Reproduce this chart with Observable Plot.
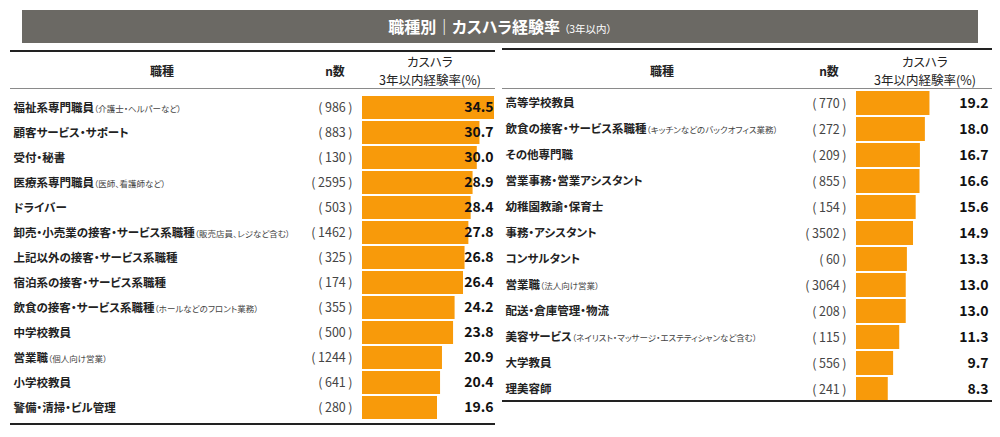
<!DOCTYPE html>
<html>
<head>
<meta charset="utf-8">
<script src="https://cdn.jsdelivr.net/npm/d3@7"></script>
<script src="https://cdn.jsdelivr.net/npm/@observablehq/plot@0.6"></script>
<style>
  html, body { margin: 0; padding: 0; background: #fff; }
  body { width: 1000px; height: 437px; position: relative; overflow: hidden;
         font-family: "Noto Sans CJK JP", "Noto Sans", sans-serif; color: #222;
         font-feature-settings: "palt"; }
  svg { font-feature-settings: "palt"; }
  .abs { position: absolute; }
  #title { left: 22px; top: 10px; width: 956px; height: 33px; background: #6b6964;
           color: #fff; text-align: center; line-height: 33px; font-size: 16px; font-weight: bold; }
  #title small { font-size: 10.5px; font-weight: normal; margin-left: 4px; }
  .rule { height: 0; z-index: 5; }
  .hdr { font-size: 12px; font-weight: bold; line-height: 16px; transform: translateX(-50%); white-space: nowrap; text-align: center; }
  .hdr2 { font-size: 12.5px; font-weight: normal; line-height: 18px; transform: translateX(-50%); white-space: nowrap; text-align: center; }
</style>
</head>
<body>
<div id="title" class="abs">職種別｜カスハラ経験率<small>（3年以内）</small></div>

<!-- left header -->
<div class="abs rule" style="left:10px;top:50px;width:485px;border-top:2px solid #222;"></div>
<div class="abs hdr" style="left:162px;top:63px;">職種</div>
<div class="abs hdr" style="left:335px;top:63px;">n数</div>
<div class="abs hdr2" style="left:430px;top:53px;">カスハラ<br>3年以内経験率(%)</div>
<div class="abs rule" style="left:10px;top:88px;width:485px;border-top:1.5px solid #8a8a8a;"></div>
<div class="abs rule" style="left:10px;top:423px;width:485px;border-top:2px solid #222;"></div>

<!-- right header -->
<div class="abs rule" style="left:502px;top:48px;width:490px;border-top:2px solid #222;"></div>
<div class="abs hdr" style="left:662px;top:63px;">職種</div>
<div class="abs hdr" style="left:829px;top:63px;">n数</div>
<div class="abs hdr2" style="left:925px;top:53px;">カスハラ<br>3年以内経験率(%)</div>
<div class="abs rule" style="left:502px;top:88px;width:490px;border-top:1.5px solid #8a8a8a;"></div>
<div class="abs rule" style="left:502px;top:400px;width:490px;border-top:2px solid #222;"></div>

<div id="left" class="abs" style="left:0;top:90px;"></div>
<div id="right" class="abs" style="left:500px;top:90px;"></div>

<script>
// ---- data: left panel ----
const leftJobs = ["福祉系専門職員", "顧客サービス・サポート", "受付・秘書", "医療系専門職員", "ドライバー",
  "卸売・小売業の接客・サービス系職種", "上記以外の接客・サービス系職種", "宿泊系の接客・サービス系職種",
  "飲食の接客・サービス系職種", "中学校教員", "営業職", "小学校教員", "警備・清掃・ビル管理"];
const leftNotes = ["（介護士・ヘルパーなど）", "", "", "（医師、看護師など）", "",
  "（販売店員、レジなど含む）", "", "", "（ホールなどのフロント業務）", "", "（個人向け営業）", "", ""];
const leftN = [986, 883, 130, 2595, 503, 1462, 325, 174, 355, 500, 1244, 641, 280];
const leftRate = [34.5, 30.7, 30.0, 28.9, 28.4, 27.8, 26.8, 26.4, 24.2, 23.8, 20.9, 20.4, 19.6];

// ---- data: right panel ----
const rightJobs = ["高等学校教員", "飲食の接客・サービス系職種", "その他専門職", "営業事務・営業アシスタント",
  "幼稚園教諭・保育士", "事務・アシスタント", "コンサルタント", "営業職", "配送・倉庫管理・物流",
  "美容サービス", "大学教員", "理美容師"];
const rightNotes = ["", "（キッチンなどのバックオフィス業務）", "", "", "", "", "", "（法人向け営業）", "",
  "（ネイリスト・マッサージ・エステティシャンなど含む）", "", ""];
const rightN = [770, 272, 209, 855, 154, 3502, 60, 3064, 208, 115, 556, 241];
const rightRate = [19.2, 18.0, 16.7, 16.6, 15.6, 14.9, 13.3, 13.0, 13.0, 11.3, 9.7, 8.3];

const rateDomain = [0, 34.5];
const FONT = '"Noto Sans CJK JP", "Noto Sans", sans-serif';

function panel(jobs, notes, ns, rates, opts) {
  const rows = jobs.map((job, i) => ({ key: job + notes[i], job, note: notes[i], n: ns[i], rate: rates[i] }));
  const svg = Plot.plot({
    width: 500,
    height: opts.height,
    marginLeft: opts.marginLeft,
    marginRight: opts.marginRight,
    marginTop: 0,
    marginBottom: 1,
    style: { fontFamily: FONT, background: "transparent", overflow: "visible" },
    x: { domain: rateDomain, axis: null },
    y: { domain: rows.map(d => d.key), axis: null, paddingInner: 0.08, paddingOuter: 0.02 },
    marks: [
      Plot.barX(rows, { x: "rate", y: "key", fill: "#f89a0a" }),
      Plot.text(rows, { y: "key", text: "key", frameAnchor: "left", textAnchor: "start",
        dx: opts.nameDx, fontSize: 11.5, fontWeight: "bold", fill: "#222" }),
      Plot.text(rows, { y: "key", text: d => `(\u2009${d.n}\u2009)`, frameAnchor: "left", textAnchor: "end",
        dx: -10, fontSize: 12.5, fill: "#444" }),
      Plot.text(rows, { y: "key", text: d => d.rate.toFixed(1), frameAnchor: "right", textAnchor: "end",
        dx: opts.valueDx, fontSize: 14, fontWeight: "bold", fill: "#111" })
    ]
  });
  // split each job label into the job name and a smaller note
  const byKey = new Map(rows.map(d => [d.key, d]));
  d3.select(svg).selectAll("text").each(function () {
    const r = byKey.get(this.textContent);
    if (r && r.note) {
      const t = d3.select(this);
      t.text("");
      t.append("tspan").text(r.job);
      t.append("tspan").attr("font-size", 8.5).attr("font-weight", "normal").attr("fill", "#444").text(r.note);
    }
  });
  return svg;
}

document.getElementById("left").append(
  panel(leftJobs, leftNotes, leftN, leftRate, { height: 335, marginLeft: 362, marginRight: 6, nameDx: -349, valueDx: -1 })
);
document.getElementById("right").append(
  panel(rightJobs, rightNotes, rightN, rightRate, { height: 312, marginLeft: 356, marginRight: 12, nameDx: -351, valueDx: 0 })
);
</script>
</body>
</html>
